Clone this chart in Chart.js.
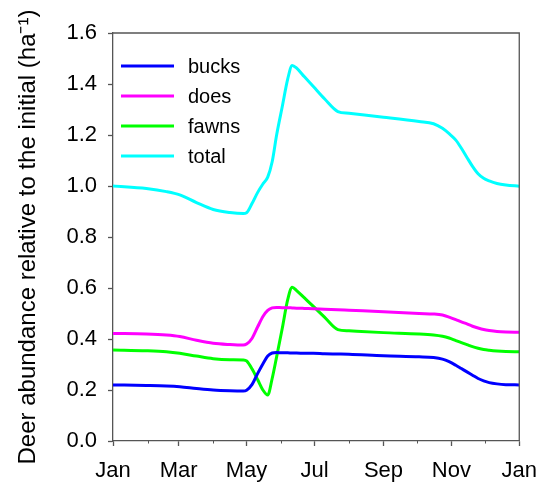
<!DOCTYPE html>
<html><head><meta charset="utf-8">
<script src="https://cdn.jsdelivr.net/npm/chart.js@4"></script>
<style>html,body{margin:0;padding:0;background:#fff}</style>
</head><body>
<canvas id="c" width="549" height="483"></canvas>
<script>
// day of year (0 = 1 Jan, 365 = next 1 Jan)
const days = [0, 30, 48, 60, 75, 90, 105, 117, 120, 125, 130, 135, 139, 143, 147, 152, 157, 161, 165, 172, 180, 190, 202, 212, 243, 275, 288, 296, 302, 308, 313, 318, 323, 328, 333, 338, 345, 353, 365];
const bucks = [0.220, 0.218, 0.216, 0.213, 0.206, 0.200, 0.197, 0.196, 0.199, 0.222, 0.265, 0.305, 0.333, 0.345, 0.347, 0.346, 0.346, 0.345, 0.345, 0.344, 0.344, 0.342, 0.341, 0.340, 0.334, 0.330, 0.327, 0.321, 0.311, 0.297, 0.284, 0.271, 0.258, 0.245, 0.236, 0.229, 0.224, 0.221, 0.220];
const does = [0.422, 0.420, 0.416, 0.410, 0.395, 0.383, 0.378, 0.376, 0.380, 0.403, 0.448, 0.490, 0.512, 0.522, 0.524, 0.523, 0.523, 0.522, 0.521, 0.520, 0.519, 0.517, 0.515, 0.513, 0.507, 0.500, 0.498, 0.494, 0.486, 0.476, 0.467, 0.459, 0.450, 0.443, 0.437, 0.433, 0.429, 0.427, 0.426];
const fawns = [0.357, 0.354, 0.350, 0.344, 0.333, 0.323, 0.319, 0.318, 0.314, 0.282, 0.240, 0.198, 0.180, 0.245, 0.330, 0.440, 0.555, 0.603, 0.590, 0.561, 0.528, 0.486, 0.437, 0.432, 0.425, 0.420, 0.416, 0.411, 0.404, 0.394, 0.386, 0.378, 0.370, 0.364, 0.359, 0.356, 0.353, 0.351, 0.350];
const total = [1.000, 0.990, 0.978, 0.965, 0.935, 0.908, 0.896, 0.892, 0.895, 0.932, 0.975, 1.010, 1.035, 1.095, 1.200, 1.310, 1.420, 1.473, 1.462, 1.428, 1.390, 1.342, 1.292, 1.285, 1.270, 1.253, 1.244, 1.226, 1.205, 1.180, 1.148, 1.112, 1.077, 1.048, 1.030, 1.020, 1.010, 1.004, 0.999];

const seriesNames = ['bucks', 'does', 'fawns', 'total'];
const seriesColors = ['#0000ff', '#ff00ff', '#00ff00', '#00ffff'];

const majorTickDays = [0, 59, 120, 181, 243, 304, 365];
const majorTickLabels = ['Jan', 'Mar', 'May', 'Jul', 'Sep', 'Nov', 'Jan'];
const minorTickDays = [31, 90, 151, 212, 273, 334];
const yTicks = [0, 0.2, 0.4, 0.6, 0.8, 1.0, 1.2, 1.4, 1.6];
const yTitle = 'Deer abundance relative to the initial (ha\u207B\u00B9)';

const FONT = "'Liberation Sans', Arial, sans-serif";
const AXIS = '#555555';

const seriesValues = [bucks, does, fawns, total];
const datasets = seriesNames.map((name, i) => ({
  label: name,
  data: days.map((d, j) => ({x: d, y: seriesValues[i][j]})),
  borderColor: seriesColors[i],
  backgroundColor: seriesColors[i],
  borderWidth: 3,
  pointRadius: 0,
  cubicInterpolationMode: 'monotone',
  fill: false
}));

const framePlugin = {
  id: 'frame',
  afterDraw(chart) {
    const {ctx, chartArea: a, scales: {x}} = chart;
    ctx.save();
    ctx.strokeStyle = AXIS;
    ctx.lineWidth = 1.3;
    ctx.beginPath();
    ctx.moveTo(a.left, a.top);
    ctx.lineTo(a.right, a.top);
    ctx.lineTo(a.right, a.bottom);
    ctx.stroke();
    ctx.beginPath();
    minorTickDays.forEach(d => {
      const px = Math.round(x.getPixelForValue(d)) + 0.5;
      ctx.moveTo(px, a.bottom);
      ctx.lineTo(px, a.bottom + 2.5);
    });
    ctx.lineWidth = 1;
    ctx.stroke();
    // legend inside plot, top-left
    ctx.font = '20px ' + FONT;
    ctx.textBaseline = 'middle';
    ctx.textAlign = 'left';
    chart.data.datasets.forEach((ds, i) => {
      const y = a.top + 33 + i * 30;
      ctx.strokeStyle = ds.borderColor;
      ctx.lineWidth = 3;
      ctx.beginPath();
      ctx.moveTo(a.left + 8, y);
      ctx.lineTo(a.left + 61, y);
      ctx.stroke();
      ctx.fillStyle = '#000';
      ctx.fillText(ds.label, a.left + 75, y + 1);
    });
    ctx.restore();
  }
};

new Chart(document.getElementById('c'), {
  type: 'line',
  data: {datasets},
  plugins: [framePlugin],
  options: {
    responsive: false,
    animation: false,
    devicePixelRatio: 1,
    layout: {padding: {left: 0, top: 33, right: 29, bottom: 0}},
    plugins: {legend: {display: false}, tooltip: {enabled: false}},
    scales: {
      x: {
        type: 'linear', min: 0, max: 365,
        afterBuildTicks: s => { s.ticks = majorTickDays.map(v => ({value: v})); },
        afterFit: s => { s.height = 42; },
        grid: {drawOnChartArea: false, drawTicks: true, tickLength: 5, color: AXIS, tickWidth: 1.3},
        border: {display: true, color: AXIS, width: 1.3},
        ticks: {
          autoSkip: false, maxRotation: 0, padding: 12, color: '#000',
          font: {family: FONT, size: 22},
          callback: (v) => { const k = majorTickDays.indexOf(v); return k >= 0 ? majorTickLabels[k] : ''; }
        }
      },
      y: {
        type: 'linear', min: 0, max: 1.6,
        afterBuildTicks: s => { s.ticks = yTicks.map(v => ({value: v})); },
        afterFit: s => { s.width = 113; },
        grid: {drawOnChartArea: false, drawTicks: true, tickLength: 5, color: AXIS, tickWidth: 1.3},
        border: {display: true, color: AXIS, width: 1.3},
        ticks: {
          padding: 11, color: '#000',
          font: {family: FONT, size: 22},
          callback: v => Number(v).toFixed(1)
        },
        title: {
          display: true, text: yTitle, color: '#000',
          font: {family: FONT, size: 24},
          padding: {top: 14, bottom: 0}
        }
      }
    }
  }
});
</script>
</body></html>
